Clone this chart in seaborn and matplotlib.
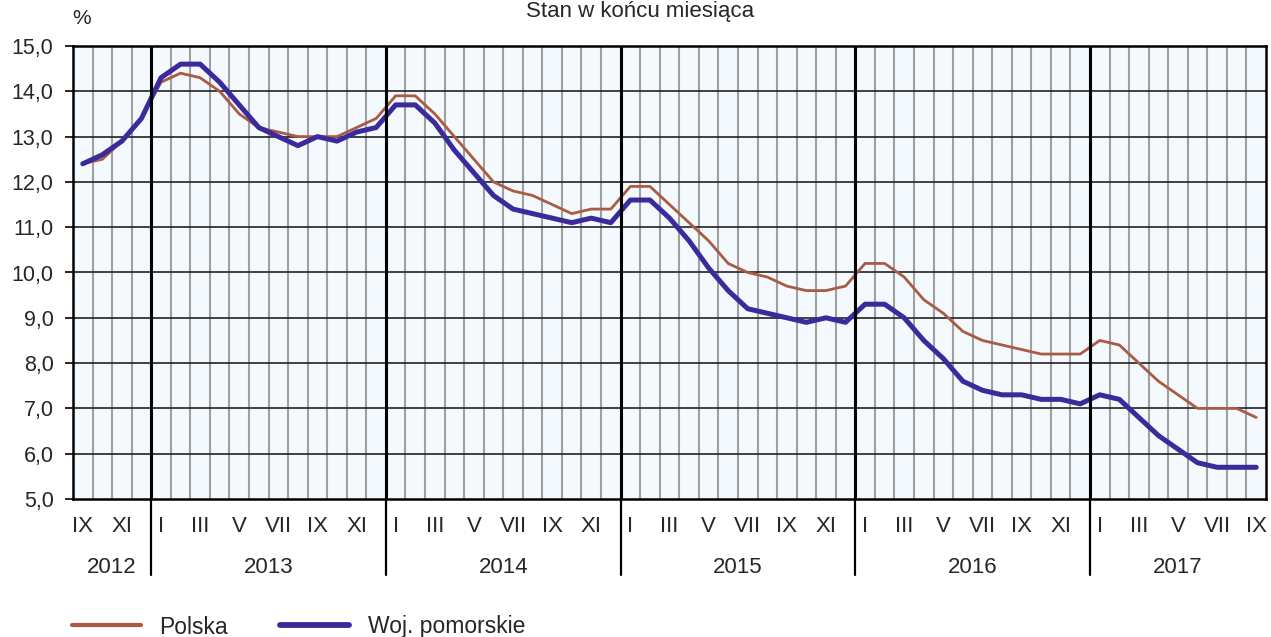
import numpy as np
import pandas as pd
import seaborn as sns
import matplotlib.pyplot as plt

# monthly unemployment rate, IX 2012 - IX 2017
polska = [12.4, 12.5, 12.9, 13.4,
          14.2, 14.4, 14.3, 14.0, 13.5, 13.2, 13.1, 13.0, 13.0, 13.0, 13.2, 13.4,
          13.9, 13.9, 13.5, 13.0, 12.5, 12.0, 11.8, 11.7, 11.5, 11.3, 11.4, 11.4,
          11.9, 11.9, 11.5, 11.1, 10.7, 10.2, 10.0, 9.9, 9.7, 9.6, 9.6, 9.7,
          10.2, 10.2, 9.9, 9.4, 9.1, 8.7, 8.5, 8.4, 8.3, 8.2, 8.2, 8.2,
          8.5, 8.4, 8.0, 7.6, 7.3, 7.0, 7.0, 7.0, 6.8]
pomorskie = [12.4, 12.6, 12.9, 13.4,
             14.3, 14.6, 14.6, 14.2, 13.7, 13.2, 13.0, 12.8, 13.0, 12.9, 13.1, 13.2,
             13.7, 13.7, 13.3, 12.7, 12.2, 11.7, 11.4, 11.3, 11.2, 11.1, 11.2, 11.1,
             11.6, 11.6, 11.2, 10.7, 10.1, 9.6, 9.2, 9.1, 9.0, 8.9, 9.0, 8.9,
             9.3, 9.3, 9.0, 8.5, 8.1, 7.6, 7.4, 7.3, 7.3, 7.2, 7.2, 7.1,
             7.3, 7.2, 6.8, 6.4, 6.1, 5.8, 5.7, 5.7, 5.7]
roman = ['I', 'II', 'III', 'IV', 'V', 'VI', 'VII', 'VIII', 'IX', 'X', 'XI', 'XII']
months = [roman[(8 + i) % 12] for i in range(len(polska))]
years = ['2012', '2013', '2014', '2015', '2016', '2017']

df = pd.DataFrame({'idx': np.arange(len(polska)), 'Polska': polska,
                   'Woj. pomorskie': pomorskie})

sns.set_style('white')
plt.rcParams['font.family'] = ['Liberation Sans', 'DejaVu Sans']

fig = plt.figure(figsize=(12.71, 6.37), dpi=100)
ax = fig.add_axes([73 / 1271, 1 - 499 / 637, (1266 - 73) / 1271, (499 - 46) / 637])
ax.set_facecolor('#F3F9FC')

n = len(polska)
ax.set_xlim(-0.5, n - 0.5)
ax.set_ylim(5, 15)

# month grid
for b in np.arange(0.5, n - 1, 1):
    ax.axvline(b, color='#a0a0a0', lw=1.5, zorder=1)
for v in np.arange(6, 15):
    ax.axhline(v, color='#222222', lw=1.2, zorder=1)

sns.lineplot(data=df, x='idx', y='Polska', ax=ax, color='#A95B44', lw=2.0,
             label='Polska', zorder=3)
sns.lineplot(data=df, x='idx', y='Woj. pomorskie', ax=ax, color='#3A2A9C', lw=3.6,
             label='Woj. pomorskie', zorder=4)

# year separators (extending into label area)
starts = [i for i, m in enumerate(months) if m == 'I']
for s in starts:
    ax.axvline(s - 0.5, ymin=0, ymax=1, color='black', lw=2.2, zorder=5)
    ax.axvline(s - 0.5, ymin=-0.168, ymax=0, color='black', lw=1.6, clip_on=False, zorder=5)

bounds = [-0.5] + [s - 0.5 for s in starts] + [n - 0.5]
for k, y in enumerate(years):
    ax.text((bounds[k] + bounds[k + 1]) / 2, -0.152, y, transform=ax.get_xaxis_transform(),
            ha='center', va='center', fontsize=16)

ax.set_xticks(np.arange(0, n, 2))
ax.set_xticklabels(months[::2], fontsize=16)
ax.tick_params(axis='x', length=0, pad=12)
ax.set_yticks(np.arange(5, 15.1, 1))
ax.set_yticklabels([f'{v:.1f}'.replace('.', ',') for v in np.arange(5, 15.1, 1)], fontsize=15.5)
ax.tick_params(axis='y', length=6, width=1.2, pad=8, left=True, color='black')
ax.set_xlabel('')
ax.set_ylabel('')
for sp in ax.spines.values():
    sp.set_color('black')
    sp.set_linewidth(1.8)

fig.text(82 / 1271, 1 - 18 / 637, '%', ha='center', va='center', fontsize=15)
fig.text(640 / 1271, 1 - 1 / 637, 'Stan w końcu miesiąca', ha='center', va='top',
         fontsize=16)

ax.get_legend().remove()
h, l = ax.get_legend_handles_labels()
leg = fig.legend(h, l, loc='center left', bbox_to_anchor=(56 / 1271, 1 - 627 / 637), ncol=2,
                 frameon=False, fontsize=16.5, handlelength=3.0, handletextpad=0.8,
                 columnspacing=2.3, borderpad=0.2)
leg.get_lines()[0].set_linewidth(3.0)
leg.get_lines()[1].set_linewidth(4.2)

fig.savefig('out.png', dpi=100)
